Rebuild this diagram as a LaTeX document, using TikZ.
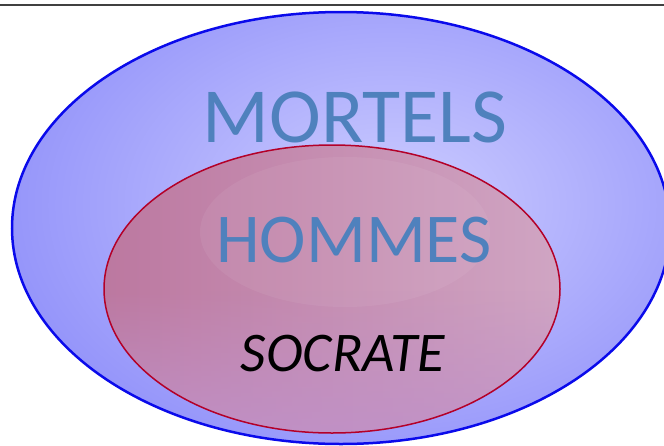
\documentclass[tikz,border=0pt]{standalone}
\usepackage{fontspec}
\setmainfont{Carlito}
\usetikzlibrary{fadings}
\definecolor{outerline}{RGB}{10,10,235}
\definecolor{outerin}{RGB}{205,205,255}
\definecolor{outerout}{RGB}{150,150,250}
\definecolor{innerline}{RGB}{180,0,40}
\definecolor{innerleft}{RGB}{188,120,160}
\definecolor{innerright}{RGB}{208,165,195}
\definecolor{innerbottom}{RGB}{192,145,200}
\definecolor{textblue}{RGB}{79,129,189}
\tikzset{
  lbl/.style={inner sep=0pt, anchor=base},
}
\begin{document}
\begin{tikzpicture}[x=1pt,y=-1pt]
\useasboundingbox (0,0) rectangle (664,445);
\fill[white] (0,0) rectangle (664,445);
% top rule
\coordinate (ruleL) at (0,5);
\coordinate (ruleR) at (664,5);
\draw[line width=2.5pt, black!75] (ruleL) -- (ruleR);
% outer ellipse (MORTELS)
\coordinate (oc) at (341,228);
\begin{scope}
  \clip (oc) ellipse [x radius=329, y radius=216];
  \fill[outerout] (0,0) rectangle (680,460);
  \shade[inner color=outerin, outer color=outerout] (390,205) ellipse [x radius=380, y radius=260];
\end{scope}
\draw[outerline, line width=2.5pt] (oc) ellipse [x radius=329, y radius=216];
% inner ellipse (HOMMES)
\coordinate (ic) at (332,289);
\shade[left color=innerleft, right color=innerright] (ic) ellipse [x radius=228, y radius=144];
\begin{scope}
  \clip (ic) ellipse [x radius=228, y radius=144];
  \fill[innerbottom, path fading=north, opacity=0.9] (100,290) rectangle (565,435);
  \fill[white, opacity=0.06] (345,232) ellipse [x radius=145, y radius=75];
\end{scope}
\draw[innerline, line width=1.5pt] (ic) ellipse [x radius=228, y radius=144];
% labels
\node[lbl, text=textblue, font=\fontsize{78}{80}\selectfont] (mortels) at (355,142) {MORTELS};
\node[lbl, text=textblue, font=\fontsize{70}{72}\selectfont] (hommes) at (354,262) {HOMMES};
\node[lbl, text=black, font=\fontsize{56}{58}\selectfont\itshape] (socrate) at (343,371) {SOCRATE};
\end{tikzpicture}
\end{document}
